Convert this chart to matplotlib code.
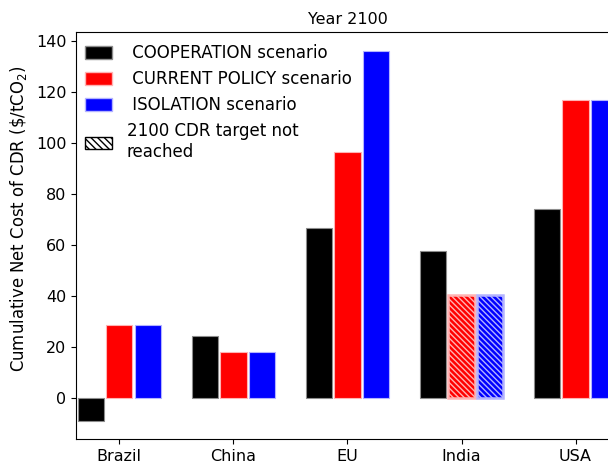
import matplotlib
matplotlib.use("Agg")
import matplotlib.pyplot as plt
import matplotlib.patches as mpatches
import numpy as np

regions = ["Brazil", "China", "EU", "India", "USA"]
cooperation = [-9, 24.5, 66.5, 57.5, 74]
current_policy = [28.5, 18, 96.5, 40.5, 117]
isolation = [28.5, 18, 136, 40.5, 117]
# True where the 2100 CDR target is not reached
not_reached_current = [False, False, False, True, False]
not_reached_isolation = [False, False, False, True, False]

fig = plt.figure(figsize=(6.08, 4.62), dpi=100)
ax = fig.add_axes([0.125, 0.0498, 0.893, 0.881])

x = np.arange(len(regions))
width = 0.23
step = 0.25

series = [
    (cooperation, "black", (0.55, 0.55, 0.55), None),
    (current_policy, "red", (1.0, 0.7, 0.7), not_reached_current),
    (isolation, "blue", (0.7, 0.7, 1.0), not_reached_isolation),
]

for i, (vals, color, edge, hatched) in enumerate(series):
    offset = (i - 1) * step
    for j, v in enumerate(vals):
        if hatched is not None and hatched[j]:
            ax.bar(x[j] + offset, v, width, color=color, edgecolor=edge,
                   linewidth=1.8, hatch="\\" * 6)
        else:
            ax.bar(x[j] + offset, v, width, color=color, edgecolor=edge,
                   linewidth=0.8)

ax.set_xlim(-0.38, 4.38)
ax.set_ylim(-16, 143.5)
ax.set_xticks(x)
ax.set_xticklabels(regions, fontsize=11.5)
ax.tick_params(axis="y", labelsize=11.5)
ax.set_yticks(np.arange(0, 141, 20))
ax.set_ylabel(r"Cumulative Net Cost of CDR (\$/tCO$_2$)", fontsize=11.9)
ax.yaxis.set_label_coords(-0.086, 0.54)
ax.set_title("Year 2100", fontsize=11.5)

handles = [
    mpatches.Patch(facecolor="black", edgecolor=(0.55, 0.55, 0.55), label=" COOPERATION scenario"),
    mpatches.Patch(facecolor="red", edgecolor=(1.0, 0.7, 0.7), label=" CURRENT POLICY scenario"),
    mpatches.Patch(facecolor="blue", edgecolor=(0.7, 0.7, 1.0), label=" ISOLATION scenario"),
    mpatches.Patch(facecolor="white", edgecolor="black", hatch="\\" * 5, label="2100 CDR target not\nreached"),
]
ax.legend(handles=handles, loc="upper left", bbox_to_anchor=(-0.006, 1.0),
          frameon=False, fontsize=12,
          handlelength=1.6, handleheight=0.8, handletextpad=0.9,
          labelspacing=0.48, borderaxespad=0.35)

plt.savefig("out.png", dpi=100)
